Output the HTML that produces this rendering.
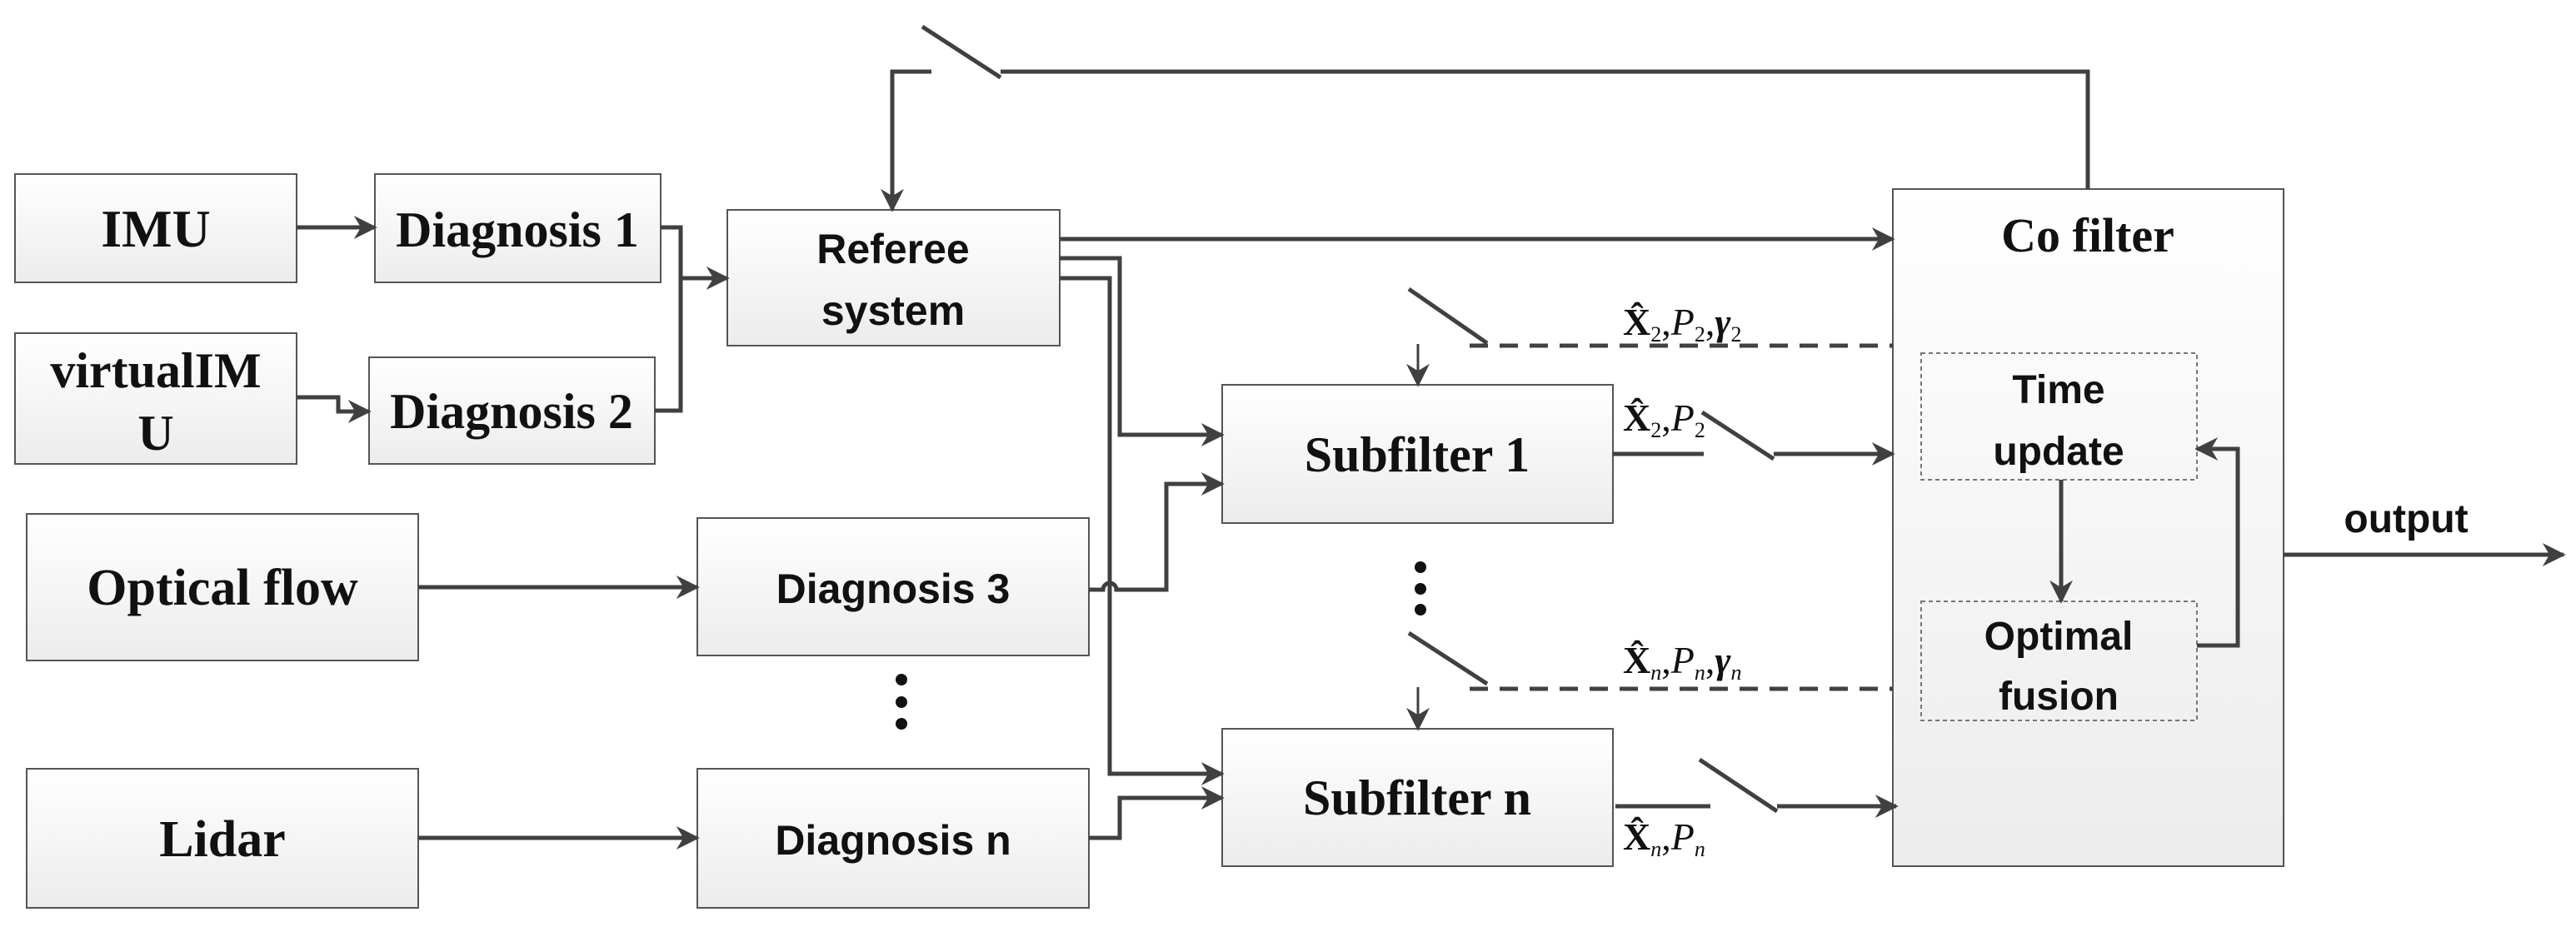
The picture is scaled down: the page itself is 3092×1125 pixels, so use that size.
<!DOCTYPE html>
<html><head><meta charset="utf-8"><style>
html,body{margin:0;padding:0;background:#fff}
svg{display:block}
.s{font-family:"Liberation Serif",serif;font-weight:bold}
.a{font-family:"Liberation Sans",sans-serif;font-weight:bold}
.m{font-family:"Liberation Serif",serif}
</style></head><body>
<svg width="3092" height="1125" viewBox="0 0 3092 1125" xmlns="http://www.w3.org/2000/svg">
<defs>
<linearGradient id="g" x1="0" y1="0" x2="0" y2="1"><stop offset="0" stop-color="#ffffff"/><stop offset="1" stop-color="#ececec"/></linearGradient>
<marker id="ab" viewBox="0 0 10 10" refX="9" refY="5" markerWidth="28" markerHeight="28" orient="auto" markerUnits="userSpaceOnUse"><path d="M0,0 L10,5 L0,10 L3,5 Z" fill="#404040"/></marker>
</defs>
<g stroke="#555" stroke-width="2" fill="url(#g)">
<rect x="18" y="209" width="338" height="130"/>
<rect x="450" y="209" width="343" height="130"/>
<rect x="18" y="400" width="338" height="157"/>
<rect x="443" y="429" width="343" height="128"/>
<rect x="873" y="252" width="399" height="163"/>
<rect x="32" y="617" width="470" height="176"/>
<rect x="837" y="622" width="470" height="165"/>
<rect x="32" y="923" width="470" height="167"/>
<rect x="837" y="923" width="470" height="167"/>
<rect x="1467" y="462" width="469" height="166"/>
<rect x="1467" y="875" width="469" height="165"/>
<rect x="2272" y="227" width="469" height="813"/>
</g>
<g stroke="#777" stroke-width="2" stroke-dasharray="5,4" fill="none">
<rect x="2306" y="424" width="331" height="152"/>
<rect x="2306" y="722" width="331" height="143"/>
</g>
<g stroke="#404040" stroke-width="5" fill="none" stroke-linejoin="miter">
<path d="M356,273 H450" marker-end="url(#ab)"/>
<path d="M793,273 H817 V493 H786"/>
<path d="M817,334 H873" marker-end="url(#ab)"/>
<path d="M356,477 H406 V494 H443" marker-end="url(#ab)"/>
<path d="M1118,86 H1071 V252" marker-end="url(#ab)"/>
<path d="M1107,32 L1201,93"/>
<path d="M1201,86 H2506 V227"/>
<path d="M1272,287 H2272" marker-end="url(#ab)"/>
<path d="M1272,310 H1344 V522 H1467" marker-end="url(#ab)"/>
<path d="M1272,334 H1332 V929 H1467" marker-end="url(#ab)"/>
<path d="M1307,708 H1324 A8,8 0 0 1 1340,708 H1400 V581 H1467" marker-end="url(#ab)"/>
<path d="M1307,1006 H1344 V958 H1467" marker-end="url(#ab)"/>
<path d="M502,705 H837" marker-end="url(#ab)"/>
<path d="M502,1006 H837" marker-end="url(#ab)"/>
<path d="M1691,347 L1785,412"/>
<path d="M1764,415 H2272" stroke-dasharray="22,14"/>
<path d="M1702,413 V462" stroke-width="3" marker-end="url(#ab)"/>
<path d="M1936,545 H2045"/>
<path d="M2043,495 L2129,551"/>
<path d="M2129,545 H2272" marker-end="url(#ab)"/>
<path d="M1691,760 L1785,821"/>
<path d="M1764,827 H2272" stroke-dasharray="22,14"/>
<path d="M1702,825 V875" stroke-width="3" marker-end="url(#ab)"/>
<path d="M1939,968 H2053"/>
<path d="M2040,912 L2133,974"/>
<path d="M2133,968 H2276" marker-end="url(#ab)"/>
<path d="M2474,576 V722" marker-end="url(#ab)"/>
<path d="M2637,775 H2686 V539 H2637" marker-end="url(#ab)"/>
<path d="M2741,666 H3077" marker-end="url(#ab)"/>
</g>
<g fill="#111">
<circle cx="1082" cy="816" r="7"/><circle cx="1082" cy="843" r="7"/><circle cx="1082" cy="869" r="7"/>
<circle cx="1705" cy="681" r="7"/><circle cx="1705" cy="707" r="7"/><circle cx="1705" cy="732" r="7"/>
</g>
<g fill="#111" text-anchor="middle">
<text class="s" x="187" y="296" font-size="64">IMU</text>
<text class="s" x="621" y="296" font-size="60">Diagnosis 1</text>
<text class="s" x="187" y="465" font-size="60">virtualIM</text>
<text class="s" x="187" y="540" font-size="60">U</text>
<text class="s" x="614" y="514" font-size="60">Diagnosis 2</text>
<text class="a" x="1072" y="316" font-size="50">Referee</text>
<text class="a" x="1072" y="390" font-size="50">system</text>
<text class="s" x="267" y="726" font-size="62">Optical flow</text>
<text class="a" x="1072" y="724" font-size="50">Diagnosis 3</text>
<text class="s" x="267" y="1028" font-size="62">Lidar</text>
<text class="a" x="1072" y="1026" font-size="50">Diagnosis n</text>
<text class="s" x="1701" y="566" font-size="60">Subfilter 1</text>
<text class="s" x="1701" y="978" font-size="60">Subfilter n</text>
<text class="s" x="2506" y="302" font-size="58">Co filter</text>
<text class="a" x="2471" y="484" font-size="48">Time</text>
<text class="a" x="2471" y="558" font-size="48">update</text>
<text class="a" x="2471" y="780" font-size="48">Optimal</text>
<text class="a" x="2471" y="852" font-size="48">fusion</text>
<text class="a" x="2888" y="639" font-size="48">output</text>
</g>
<g fill="#111" font-size="46">
<text class="m" x="1948" y="402"><tspan font-weight="bold">X̂</tspan><tspan font-size="26" dy="8">2</tspan><tspan dy="-8">,</tspan><tspan font-style="italic">P</tspan><tspan font-size="26" dy="8">2</tspan><tspan dy="-8">,</tspan><tspan font-style="italic" font-weight="bold">γ</tspan><tspan font-size="26" dy="8">2</tspan></text>
<text class="m" x="1948" y="517"><tspan font-weight="bold">X̂</tspan><tspan font-size="26" dy="8">2</tspan><tspan dy="-8">,</tspan><tspan font-style="italic">P</tspan><tspan font-size="26" dy="8">2</tspan></text>
<text class="m" x="1948" y="808"><tspan font-weight="bold">X̂</tspan><tspan font-size="26" dy="8" font-style="italic">n</tspan><tspan dy="-8">,</tspan><tspan font-style="italic">P</tspan><tspan font-size="26" dy="8" font-style="italic">n</tspan><tspan dy="-8">,</tspan><tspan font-style="italic" font-weight="bold">γ</tspan><tspan font-size="26" dy="8" font-style="italic">n</tspan></text>
<text class="m" x="1948" y="1020"><tspan font-weight="bold">X̂</tspan><tspan font-size="26" dy="8" font-style="italic">n</tspan><tspan dy="-8">,</tspan><tspan font-style="italic">P</tspan><tspan font-size="26" dy="8" font-style="italic">n</tspan></text>
</g>
</svg>
</body></html>
